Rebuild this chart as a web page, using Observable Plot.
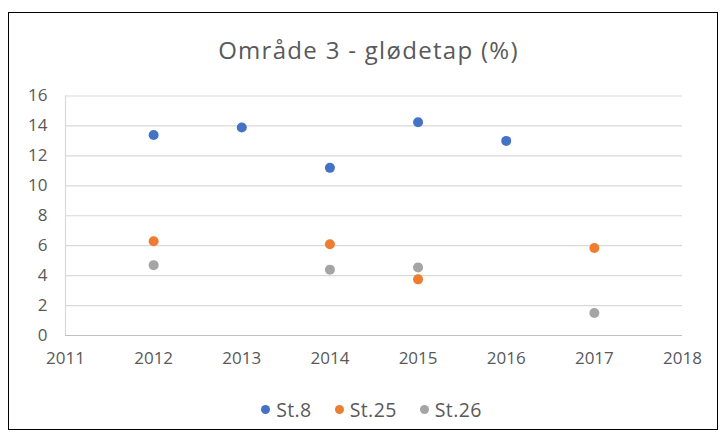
<!DOCTYPE html>
<html>
<head>
<meta charset="utf-8">
<script src="https://cdn.jsdelivr.net/npm/d3@7"></script>
<script src="https://cdn.jsdelivr.net/npm/@observablehq/plot@0.6"></script>
<style>
  html, body { margin: 0; padding: 0; background: #fff; }
  body { width: 723px; height: 436px; position: relative; overflow: hidden; font-family: "Open Sans", "Noto Sans", sans-serif; }
  #frame { position: absolute; left: 8px; top: 12px; width: 710px; height: 418px; border: 1.5px solid #000; box-sizing: border-box; }
  #title { position: absolute; left: 7px; width: 723px; top: 33px; text-align: center; font-size: 24px; color: #595959; letter-spacing: 1.3px; line-height: normal; white-space: nowrap; }
  #chart { position: absolute; left: 0; top: 80px; }
  #legend { position: absolute; left: 10px; width: 723px; top: 396px; display: flex; justify-content: center; gap: 23px; font-size: 19.5px; color: #595959; line-height: normal; letter-spacing: 0.4px; }
  #legend span.item { display: inline-flex; align-items: center; }
  #legend span.dot { display: inline-block; width: 9px; height: 9px; border-radius: 50%; margin-right: 6px; }
</style>
</head>
<body>
<div id="frame"></div>
<div id="title">Område 3 - glødetap (%)</div>
<div id="chart"></div>
<div id="legend"></div>
<script>
const years = [2012, 2013, 2014, 2015, 2016, 2017];
const seriesNames = ["St.8", "St.25", "St.26"];
const st8  = [13.4, 13.9, 11.2, 14.25, 13.0, null];
const st25 = [6.3, null, 6.1, 3.75, null, 5.85];
const st26 = [4.7, null, 4.4, 4.55, null, 1.5];
const colors = ["#4472C4", "#ED7D31", "#A5A5A5"];
const xTicks = [2011, 2012, 2013, 2014, 2015, 2016, 2017, 2018];
const yTicks = [0, 2, 4, 6, 8, 10, 12, 14, 16];

const seriesValues = [st8, st25, st26];
const rows = [];
seriesNames.forEach((name, i) => {
  years.forEach((yr, j) => {
    const v = seriesValues[i][j];
    if (v != null) rows.push({series: name, year: yr, value: v});
  });
});

const chart = Plot.plot({
  width: 723,
  height: 290,
  marginLeft: 65,
  marginRight: 41,
  marginTop: 15.5,
  marginBottom: 35,
  style: {fontFamily: "'Open Sans', 'Noto Sans', sans-serif", fontSize: "17px", color: "#595959", background: "transparent", overflow: "visible"},
  x: {domain: [2011, 2018]},
  y: {domain: [0, 16]},
  color: {domain: seriesNames, range: colors},
  marks: [
    Plot.gridY(yTicks, {stroke: "#d9d9d9", strokeOpacity: 1, strokeWidth: 1.2}),
    Plot.ruleX([2011], {stroke: "#d9d9d9", strokeWidth: 1.2}),
    Plot.ruleY([0], {stroke: "#bfbfbf", strokeWidth: 1.2}),
    Plot.axisY(yTicks, {tickSize: 0, tickPadding: 18, label: null, fill: "#595959", fontSize: 17}),
    Plot.axisX(xTicks, {tickSize: 0, tickPadding: 16, label: null, tickFormat: d => String(d), fill: "#595959", fontSize: 17}),
    Plot.dot(rows, {x: "year", y: "value", fill: "series", r: 5, stroke: null})
  ]
});
document.getElementById("chart").appendChild(chart);

const legend = document.getElementById("legend");
seriesNames.forEach((name, i) => {
  const item = document.createElement("span");
  item.className = "item";
  const dot = document.createElement("span");
  dot.className = "dot";
  dot.style.background = colors[i];
  item.appendChild(dot);
  item.appendChild(document.createTextNode(name));
  legend.appendChild(item);
});
</script>
</body>
</html>
